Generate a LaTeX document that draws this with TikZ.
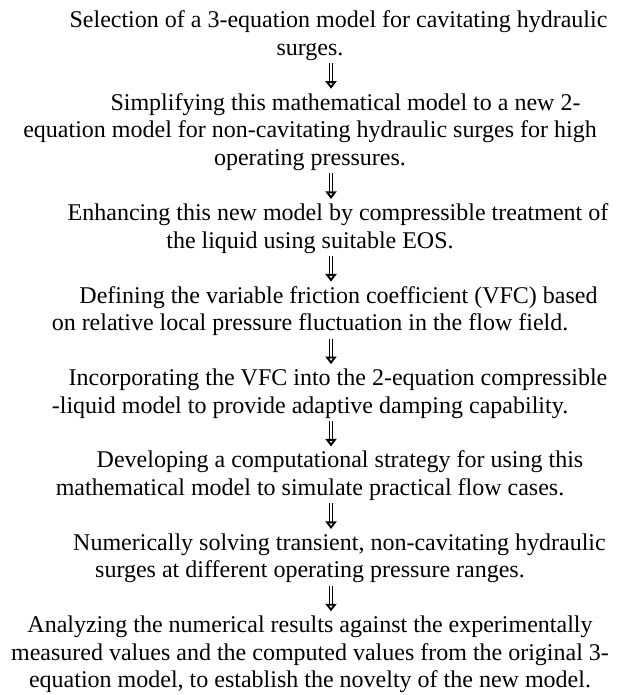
\documentclass[tikz,border=0pt]{standalone}
\usepackage{fontspec}
\setmainfont{Liberation Serif}
\usetikzlibrary{positioning,arrows.meta}

\begin{document}
\begin{tikzpicture}
[node distance = 14.9pt,
stepbox/.style = {align=center, inner sep=0pt, text depth=3.7pt,
font=\fontsize{12pt}{13.835pt}\selectfont},
flowarrow/.style = {double, double distance=1.2pt, line width=0.6pt, shorten >=2.1pt,
-{Triangle[open, length=3.8pt, width=5.5pt, line width=1.1pt]}},
]
\useasboundingbox (0,0) rectangle (312pt,-347.5pt);
\node [stepbox, anchor=north] (s1) at (155pt,-5.2pt)
{\hspace*{28.5pt}Selection of a 3-equation model for cavitating hydraulic\\
surges.};
\node [stepbox, below=of s1] (s2)
{\hspace*{35.5pt}Simplifying this mathematical model to a new 2-\\
equation model for non-cavitating hydraulic surges for high\\
operating pressures.};
\node [stepbox, below=of s2] (s3)
{\hspace*{28pt}Enhancing this new model by compressible treatment of\\
the liquid using suitable EOS.};
\node [stepbox, below=of s3] (s4)
{\hspace*{28.5pt}Defining the variable friction coefficient (VFC) based\\
on relative local pressure fluctuation in the flow field.};
\node [stepbox, below=of s4] (s5)
{\hspace*{28pt}Incorporating the VFC into the 2-equation compressible\\
-liquid model to provide adaptive damping capability.};
\node [stepbox, below=of s5] (s6)
{\hspace*{30pt}Developing a computational strategy for using this\\
mathematical model to simulate practical flow cases.};
\node [stepbox, below=of s6] (s7)
{\hspace*{29.5pt}Numerically solving transient, non-cavitating hydraulic\\
surges at different operating pressure ranges.};
\node [stepbox, below=of s7] (s8)
{Analyzing the numerical results against the experimentally\\
measured values and the computed values from the original 3-\\
equation model, to establish the novelty of the new model.};
% arrows between the steps
\foreach \a/\b in {s1/s2,s2/s3,s3/s4,s4/s5,s5/s6,s6/s7,s7/s8}
\draw [flowarrow] ([xshift=10.5pt]\a.south) -- ([xshift=10.5pt]\b.north);
\end{tikzpicture}
\end{document}
